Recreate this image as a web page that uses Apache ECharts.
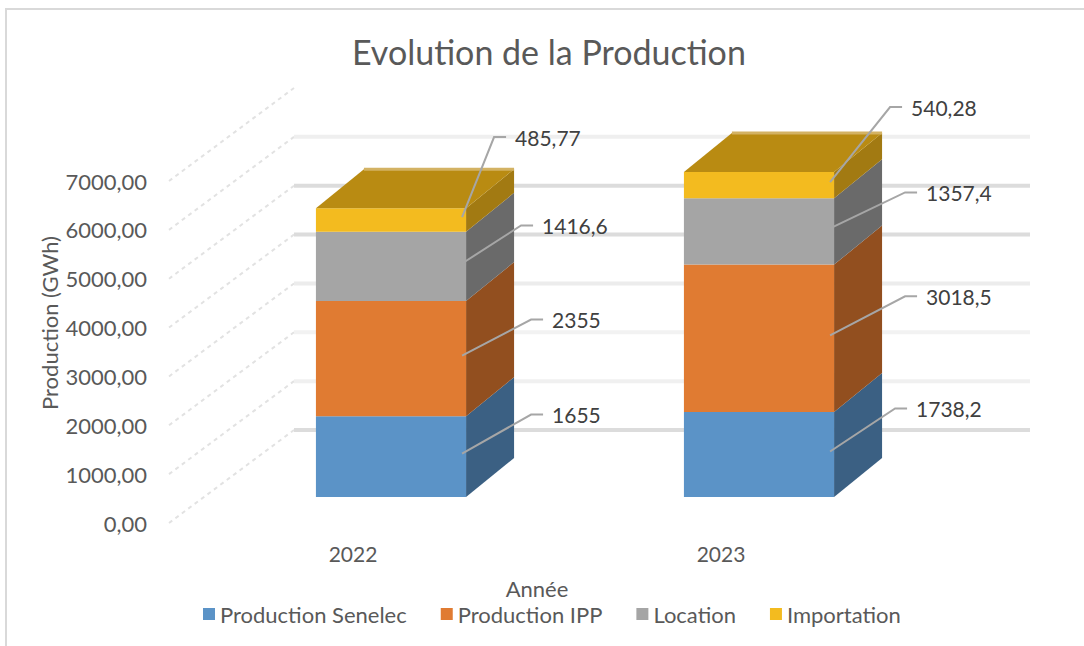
<!DOCTYPE html>
<html>
<head>
<meta charset="utf-8">
<title>Evolution de la Production</title>
<script src="https://cdn.jsdelivr.net/npm/echarts@6/dist/echarts.min.js"></script>
<style>
  html, body { margin: 0; padding: 0; background: #fff; }
  #chart { width: 1084px; height: 646px; }
</style>
</head>
<body>
<div id="chart"></div>
<script>
// data
const years = ['2022', '2023']
const seriesNames = ['Production Senelec', 'Production IPP', 'Location', 'Importation']
const senelec = [1655, 1738.2]
const ipp = [2355, 3018.5]
const locationVals = [1416.6, 1357.4]
const importation = [485.77, 540.28]
const yTicks = [0, 1000, 2000, 3000, 4000, 5000, 6000, 7000]
const stacks = [senelec, ipp, locationVals, importation]

// styles
const frontColors = ['#5b93c7', '#e07b32', '#a5a5a5', '#f3bb1f']
const sideColors = ['#3b6083', '#924f1f', '#6a6a6a', '#a27a12']
const topColor = '#b98b12'
const gridShades = ['#dcdcdc', '#f0f0f0', '#f2f2f2', '#ececec', '#dcdcdc', '#dcdcdc', '#efefef', 'rgba(0,0,0,0)']
// leader elbow offsets per layer, per year
const labelOffsets = [
  [[69, -39], [65, -43]],
  [[69, -36], [75, -39]],
  [[59, -38], [75, -36]],
  [[32, -80], [60, -75]]
]
const FRONT = [38, -26]  // bar front face shift from floor front
const DEPTH = [48, -39]  // bar depth
const WALL = [125, -93]  // back wall shift
const BAR_RATIO = 0.408
const FONT = 'Lato, "Noto Sans", sans-serif'

const fmt = v => String(v).replace('.', ',')

const chart = echarts.init(document.getElementById('chart'), null, { renderer: 'svg' })

const gridItem = (params, api) => {
  const v = api.value(1)
  const idx = params.dataIndex
  const cs = params.coordSys
  const y = api.coord([0, v])[1]
  const xl = cs.x, xr = cs.x + cs.width
  return {
    type: 'group',
    children: [
      {
        type: 'line',
        shape: { x1: xl, y1: y, x2: xl + WALL[0], y2: y + WALL[1] },
        style: { stroke: '#e2e2e2', lineWidth: 2, lineDash: [4, 4] }
      },
      {
        type: 'line',
        shape: { x1: xl + WALL[0], y1: y + WALL[1], x2: xr + WALL[0], y2: y + WALL[1] },
        style: { stroke: gridShades[idx], lineWidth: 4 }
      }
    ]
  }
}

const segmentItem = layer => (params, api) => {
  const cat = api.value(0), lo = api.value(1), hi = api.value(2), val = api.value(3)
  const band = api.size([1, 0])[0]
  const w = band * BAR_RATIO
  const pLo = api.coord([cat, lo]), pHi = api.coord([cat, hi])
  const x0 = pLo[0] - w / 2 + FRONT[0], x1 = x0 + w
  const yB = pLo[1] + FRONT[1], yT = pHi[1] + FRONT[1]
  const dx = DEPTH[0], dy = DEPTH[1]
  const children = [
    {
      type: 'polygon',
      shape: { points: [[x1, yB], [x1 + dx, yB + dy], [x1 + dx, yT + dy], [x1, yT]] },
      style: { fill: sideColors[layer] }
    },
    {
      type: 'rect',
      shape: { x: x0, y: yT, width: w, height: yB - yT },
      style: { fill: frontColors[layer] }
    }
  ]
  if (layer === stacks.length - 1) {
    children.push({
      type: 'polygon',
      shape: { points: [[x0, yT], [x1, yT], [x1 + dx, yT + dy], [x0 + dx, yT + dy]] },
      style: { fill: topColor }
    })
    children.push({
      type: 'line',
      shape: { x1: x0 + dx, y1: yT + dy, x2: x1 + dx, y2: yT + dy },
      style: { stroke: '#d3b263', lineWidth: 3 }
    })
  }
  const off = labelOffsets[layer][cat]
  const ax = x1 - 4, ay = (yB + yT) / 2 - 3
  const ex = ax + off[0], ey = ay + off[1]
  children.push({
    type: 'polyline',
    shape: { points: [[ax, ay], [ex, ey], [ex + 12, ey]] },
    style: { stroke: '#a6a6a6', lineWidth: 2, fill: null }
  })
  children.push({
    type: 'text',
    x: ex + 21,
    y: ey,
    style: { text: fmt(val), fill: '#404040', font: '21px ' + FONT, align: 'left', verticalAlign: 'middle' }
  })
  return { type: 'group', children }
}

const segmentSeries = stacks.map((vals, layer) => ({
  name: seriesNames[layer],
  type: 'custom',
  renderItem: segmentItem(layer),
  itemStyle: { color: frontColors[layer] },
  encode: { x: 0, y: [1, 2] },
  data: vals.map((v, i) => {
    let base = 0
    for (let k = 0; k < layer; k++) base += stacks[k][i]
    return [i, base, base + v, v]
  })
}))

chart.setOption({
  animation: false,
  color: frontColors,
  textStyle: { fontFamily: FONT },
  title: {
    text: 'Evolution de la Production',
    left: 352,
    top: 34,
    padding: 0,
    textStyle: { color: '#595959', fontSize: 34, fontWeight: 'normal', fontFamily: FONT }
  },
  legend: {
    data: seriesNames,
    left: 203,
    top: 603,
    padding: 0,
    icon: 'rect',
    itemWidth: 12,
    itemHeight: 12,
    itemGap: 34,
    textStyle: { color: '#595959', fontSize: 22, fontFamily: FONT }
  },
  grid: { left: 169, right: 179, top: 181, bottom: 123 },
  xAxis: {
    type: 'category',
    data: years,
    name: 'Année',
    nameLocation: 'middle',
    nameGap: 54,
    nameTextStyle: { color: '#595959', fontSize: 22, fontFamily: FONT },
    axisLine: { show: false },
    axisTick: { show: false },
    axisLabel: { color: '#595959', fontSize: 21, margin: 20, fontFamily: FONT }
  },
  yAxis: {
    type: 'value',
    min: 0,
    max: 7000,
    interval: 1000,
    name: 'Production (GWh)',
    nameLocation: 'middle',
    nameRotate: 90,
    nameGap: 109,
    nameMoveOverlap: false,
    nameTextStyle: { color: '#595959', fontSize: 22, fontFamily: FONT, padding: [0, 0, 0, 58] },
    axisLine: { show: false },
    axisTick: { show: false },
    splitLine: { show: false },
    axisLabel: {
      color: '#595959',
      fontSize: 22,
      margin: 22,
      fontFamily: FONT,
      formatter: v => v.toFixed(2).replace('.', ',')
    }
  },
  graphic: [
    {
      type: 'polyline',
      shape: { points: [[6, 646], [6, 9], [1084, 9]] },
      style: { stroke: '#d9d9d9', lineWidth: 2, fill: null },
      silent: true
    }
  ],
  series: [
    {
      name: 'grid',
      type: 'custom',
      silent: true,
      renderItem: gridItem,
      encode: { x: 0, y: 1 },
      data: yTicks.map(v => [0, v])
    },
    ...segmentSeries
  ]
})

window.addEventListener('resize', () => {
  chart.resize()
})
</script>
</body>
</html>
